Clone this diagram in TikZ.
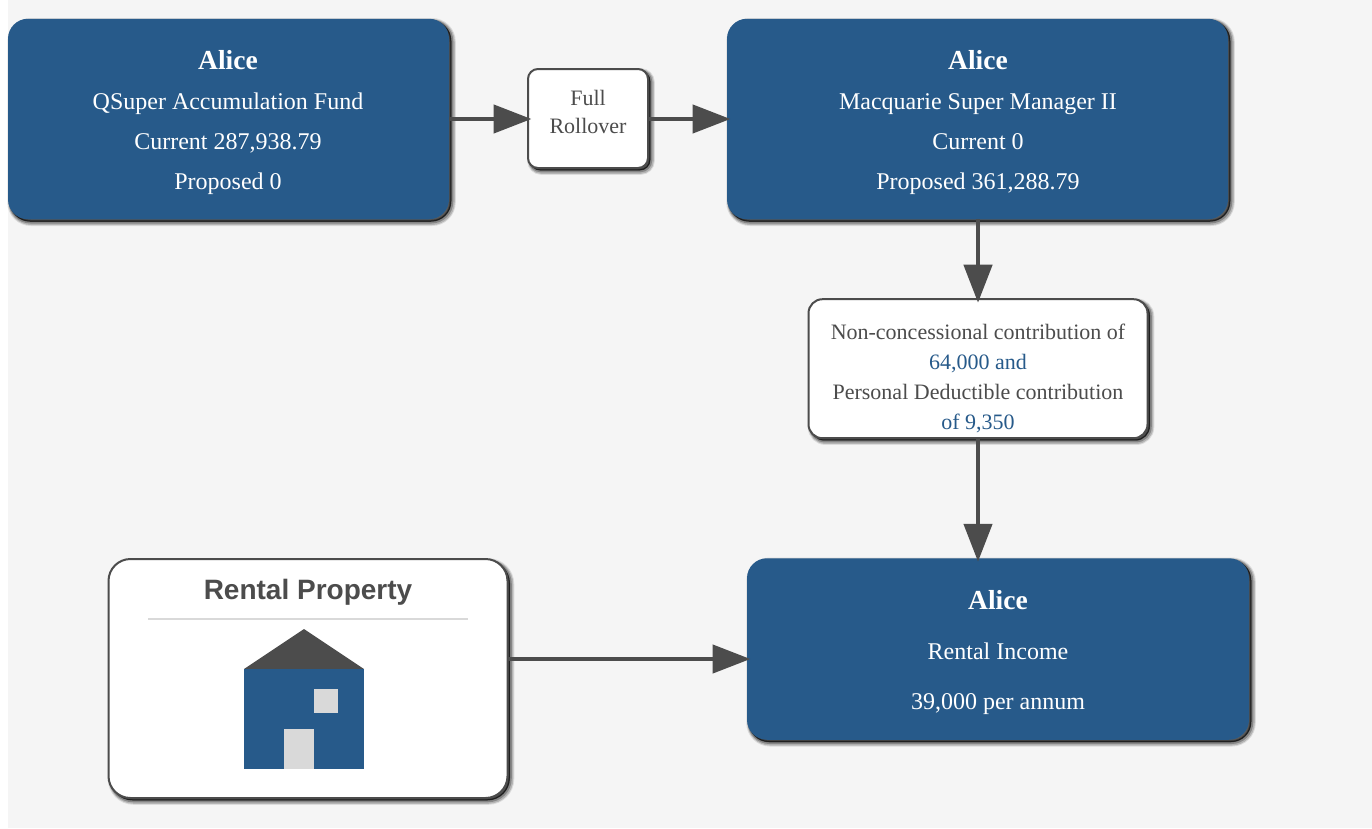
\documentclass[tikz,border=0pt]{standalone}
\usepackage{fontspec}
\setmainfont{Liberation Serif}
\newfontfamily\headsans{Liberation Sans}
\usetikzlibrary{arrows.meta}
\definecolor{pagebg}{HTML}{F5F5F5}
\definecolor{boxblue}{HTML}{275A8A}
\definecolor{inkgrey}{HTML}{4C4C4C}
\definecolor{lightgrey}{HTML}{D9D9D9}
\tikzset{
  softshadow/.style={
    preaction={draw=black,line width=7.5pt,opacity=.10,transform canvas={xshift=3pt,yshift=-3pt}},
    preaction={draw=black,line width=5.5pt,opacity=.18,transform canvas={xshift=3pt,yshift=-3pt}},
    preaction={draw=black,line width=3.5pt,opacity=.25,transform canvas={xshift=2.5pt,yshift=-2.5pt}},
    preaction={draw=black,fill=black,line width=1pt,opacity=.6,transform canvas={xshift=2pt,yshift=-2pt}}
  },
  bluebox/.style={softshadow,rectangle,rounded corners=20pt,fill=boxblue,inner sep=0pt,outer sep=0pt},
  whitebox/.style={softshadow,rectangle,rounded corners=#1,fill=white,draw=inkgrey,line width=2pt,inner sep=0pt,outer sep=0pt},
  conn/.style={draw=inkgrey,line width=4.6pt,-{Triangle[length=38pt,width=28pt,fill=inkgrey]},shorten >=-3.5pt},
  boxtext/.style={anchor=base,inner sep=0pt,text=white,font=\fontsize{24}{28}\selectfont},
  boxhead/.style={anchor=base,inner sep=0pt,text=white,font=\fontsize{27.5}{32}\selectfont\bfseries},
  notetext/.style={anchor=base,inner sep=0pt,text=inkgrey,font=\fontsize{22}{26}\selectfont},
  noteblue/.style={notetext,text=boxblue},
}
\begin{document}
\begin{tikzpicture}[x=1pt,y=-1pt]
\useasboundingbox (0,0) rectangle (1372,828);
\fill[white] (0,0) rectangle (1372,828);
\fill[pagebg] (8,0) rectangle (1372,828);

\node[bluebox,minimum width=441pt,minimum height=200.5pt] (acc1) at (228.5,119) {};
\node[bluebox,minimum width=501pt,minimum height=200.5pt] (acc2) at (977.5,119) {};
\node[bluebox,minimum width=502pt,minimum height=181.5pt] (income) at (998,649) {};
\node[whitebox=10pt,minimum width=120pt,minimum height=99pt] (roll) at (588,118.5) {};
\node[whitebox=14pt,minimum width=339pt,minimum height=139pt] (contrib) at (978,368.7) {};
\node[whitebox=22pt,minimum width=399pt,minimum height=239pt] (rental) at (308,678.5) {};

\node[boxhead] (a1h) at (228,69) {Alice};
\node[boxtext] (a1a) at (228,109) {QSuper Accumulation Fund};
\node[boxtext] (a1b) at (228,149) {Current 287,938.79};
\node[boxtext] (a1c) at (228,189) {Proposed 0};

\node[boxhead] (a2h) at (978,69) {Alice};
\node[boxtext] (a2a) at (978,109) {Macquarie Super Manager II};
\node[boxtext] (a2b) at (978,149) {Current 0};
\node[boxtext] (a2c) at (978,189) {Proposed 361,288.79};

\node[boxhead] (a3h) at (998,609) {Alice};
\node[boxtext] (a3a) at (998,659) {Rental Income};
\node[boxtext] (a3b) at (998,709) {39,000 per annum};

\node[notetext] (r1) at (588,105) {Full};
\node[notetext] (r2) at (588,133) {Rollover};

\node[notetext] (c1) at (978,339) {Non-concessional contribution of};
\node[noteblue] (c2) at (978,369) {64,000 and};
\node[notetext] (c3) at (978,399) {Personal Deductible contribution};
\node[noteblue] (c4) at (978,429) {of 9,350};

\node[anchor=base,inner sep=0pt,text=inkgrey,font=\fontsize{28}{32}\selectfont\headsans\bfseries] (rh) at (308,599) {Rental Property};
\draw[lightgrey,line width=2pt] (148,619) -- (468,619);

\fill[inkgrey] (244,669) -- (304,629) -- (364,669) -- cycle;
\fill[boxblue] (244,669) rectangle (364,769);
\fill[lightgrey] (314,689) rectangle (338,713);
\fill[lightgrey] (284,729) rectangle (314,769);

\coordinate (rentalexit) at (508,659);
\draw[conn] (acc1.east) -- (acc1.east -| roll.west);
\draw[conn] (roll.east |- acc2.west) -- (acc2.west);
\draw[conn] (acc2.south -| contrib.north) -- (contrib.north);
\draw[conn] (contrib.south) -- (contrib.south |- income.north);
\draw[conn] (rentalexit) -- (rentalexit -| income.west);
\end{tikzpicture}
\end{document}
